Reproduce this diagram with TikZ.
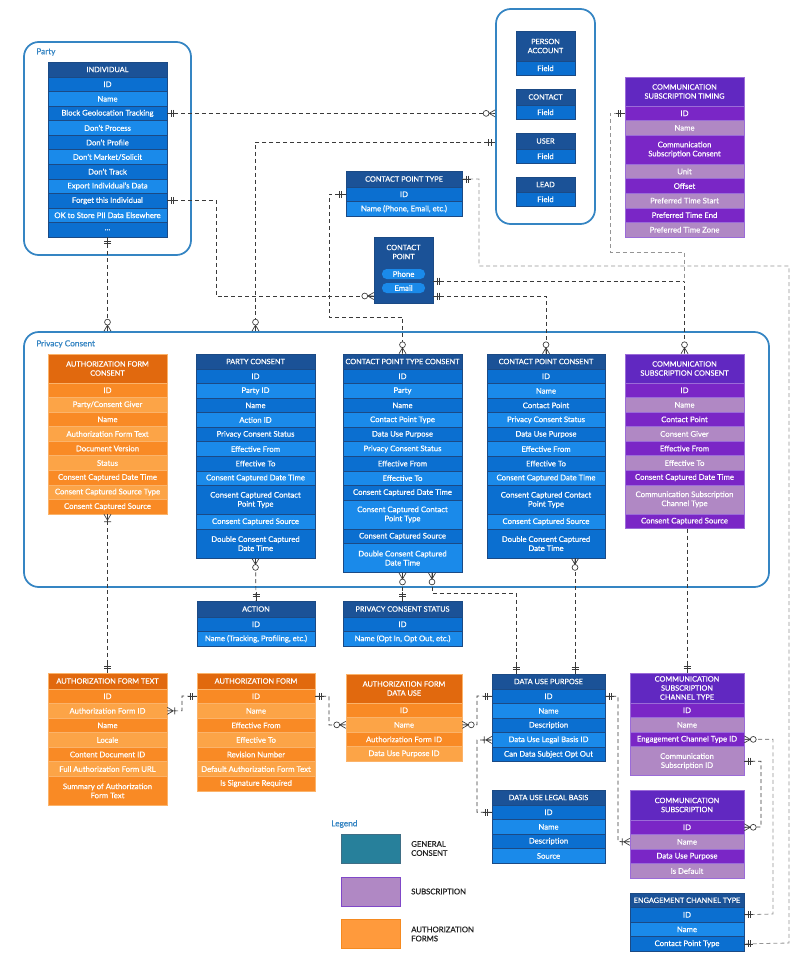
\documentclass[tikz,border=0pt]{standalone}
\usepackage{fontspec}
\setmainfont{Lato}[FakeBold=0.6]
\definecolor{bluehd}{HTML}{1B5297}
\definecolor{blued}{HTML}{0B6FD0}
\definecolor{bluel}{HTML}{1A8AEA}
\definecolor{blueb}{HTML}{1B4A85}
\definecolor{purhd}{HTML}{6128C1}
\definecolor{purd}{HTML}{7A26C6}
\definecolor{purl}{HTML}{B088C4}
\definecolor{purb}{HTML}{9B6BD8}
\definecolor{orahd}{HTML}{E1690E}
\definecolor{orad}{HTML}{F98A25}
\definecolor{oral}{HTML}{FCA447}
\definecolor{orab}{HTML}{FBB36A}
\definecolor{frame}{HTML}{3585C3}
\definecolor{ln}{HTML}{3A3A3A}
\definecolor{lnl}{HTML}{959595}
\definecolor{legteal}{HTML}{27809B}
\definecolor{legtealb}{HTML}{3F6E85}
\definecolor{legpur}{HTML}{B088C4}
\definecolor{legpurb}{HTML}{8048C8}
\definecolor{legora}{HTML}{FF9A3C}
\definecolor{legorab}{HTML}{F58A20}
\definecolor{legtxt}{HTML}{222222}
\newcommand\erfont{\fontsize{5.8}{6.8}\selectfont}
\newcommand\hdfont{\fontsize{5.5}{6.8}\selectfont}
\newcommand\lbfont{\fontsize{6.2}{7.2}\selectfont}
\newcommand\erhead[7]{%
  \node[draw=#2b, fill=#2hd, text=white, font=\hdfont, align=center, inner sep=0pt,
        minimum width={#5*0.75pt}, minimum height={#6*0.75pt}] (#1) at ({#3+#5/2},{#4+#6/2}) {#7};
  \pgfmathsetmacro\ertop{#4+#6}\xdef\ertop{\ertop}}
\newcommand\errows[5]{%
  \foreach \rtxt/\rh [count=\ri] in {#5}{%
    \pgfmathsetmacro\hh{14.55*\rh}%
    \ifodd\ri\relax \edef\fc{#2d}\else\edef\fc{#2l}\fi
    \node[draw=#2b, fill=\fc, text=white, font=\erfont, align=center, inner sep=0pt,
          minimum width={#4*0.75pt}, minimum height={\hh*0.75pt}] (#1-\ri) at ({#3+#4/2},{\ertop+\hh/2}) {\rtxt};
    \pgfmathsetmacro\nt{\ertop+\hh}\xdef\ertop{\nt}%
  }}
\tikzset{
  cont/.style={draw=frame, line width=1.3pt, rounded corners=11pt, inner sep=0pt},
  lbl/.style={text=frame, font=\lbfont, anchor=west, inner sep=0pt},
  pill/.style={fill=bluel, rounded corners=3.5pt, minimum width={43*0.75pt}, minimum height={10*0.75pt}, inner sep=0pt, text=white, font=\erfont},
  conn/.style={draw=ln, line width=0.5pt, dash pattern=on 3pt off 2.2pt},
  connl/.style={draw=lnl, line width=0.6pt, dash pattern=on 3pt off 2.2pt},
  mk/.style={draw=ln, line width=0.5pt, solid},
  pics/erone/.style={code={\draw[mk] (0,0)--(9,0) (4,-3.5)--(4,3.5) (6.5,-3.5)--(6.5,3.5);}},
  pics/erzm/.style={code={\draw[mk] (0,-3.5)--(6,0)--(0,3.5) (0,0)--(7,0); \draw[mk,fill=white] (9,0) circle[radius=2.2pt];}},
  pics/erom/.style={code={\draw[mk] (0,-3.5)--(6,0)--(0,3.5) (0,0)--(9,0) (7.5,-3.5)--(7.5,3.5);}},
  legbox/.style={minimum width={59*0.75pt}, minimum height={29*0.75pt}, line width=0.6pt},
  legtext/.style={text=legtxt, font=\erfont, anchor=west, align=left, inner sep=0pt},
}
\begin{document}
\begin{tikzpicture}[x=0.75pt,y=-0.75pt]
\useasboundingbox[fill=white] (0,0) rectangle (800,964);
% containers
\node[cont, minimum width={167*0.75pt}, minimum height={213*0.75pt}] (party) at (107.5,148.5) {};
\node[lbl] (party-l) at (36,52) {Party};
\node[cont, minimum width={99*0.75pt}, minimum height={215*0.75pt}] (crm) at (545.5,116.5) {};
\node[cont, minimum width={745*0.75pt}, minimum height={255*0.75pt}] (prv) at (396.5,459.5) {};
\node[lbl] (prv-l) at (36,344) {Privacy Consent};
% tables
\erhead{ind}{blue}{48}{62}{119}{15}{INDIVIDUAL}
\errows{ind}{blue}{48}{119}{ID/1, Name/1, Block Geolocation Tracking/1, Don’t Process/1, Don’t Profile/1, {Don’t Market/Solicit}/1, Don’t Track/1, Export Individual’s Data/1, Forget this Individual/1, OK to Store PII Data Elsewhere/1, {\ldots}/1}
\erhead{pa}{blue}{516}{31}{59}{30}{PERSON\\ACCOUNT}
\errows{pa}{blue}{516}{59}{Field/1}
\erhead{ct}{blue}{516}{89}{59}{16}{CONTACT}
\errows{ct}{blue}{516}{59}{Field/1}
\erhead{us}{blue}{516}{133}{59}{16}{USER}
\errows{us}{blue}{516}{59}{Field/1}
\erhead{ld}{blue}{516}{177}{59}{15}{LEAD}
\errows{ld}{blue}{516}{59}{Field/1}
\erhead{cpt}{blue}{346}{171}{116}{16}{CONTACT POINT TYPE}
\errows{cpt}{blue}{346}{116}{ID/1, {Name (Phone, Email, etc.)}/1}
\erhead{cst}{pur}{625}{77}{119}{29}{COMMUNICATION\\SUBSCRIPTION TIMING}
\errows{cst}{pur}{625}{119}{ID/1, Name/1, {Communication\\Subscription Consent}/2, Unit/1, Offset/1, Preferred Time Start/1, Preferred Time End/1, Preferred Time Zone/1}
% contact point
\node[draw=blueb, fill=bluehd, minimum width={59*0.75pt}, minimum height={66*0.75pt}, inner sep=0pt] (cp) at (403.5,270) {};
\node[text=white, font=\hdfont, align=center, inner sep=0pt] (cp-t) at (403.5,252) {CONTACT\\POINT};
\node[pill] (cp-phone) at (403.5,274) {Phone};
\node[pill] (cp-email) at (403.5,288) {Email};
% privacy consent tables
\erhead{afc}{ora}{48}{354}{119}{29}{AUTHORIZATION FORM\\CONSENT}
\errows{afc}{ora}{48}{119}{ID/1, {Party/Consent Giver}/1, Name/1, Authorization Form Text/1, Document Version/1, Status/1, Consent Captured Date Time/1, Consent Captured Source Type/1, Consent Captured Source/1}
\erhead{pc}{blue}{196}{354}{119}{15}{PARTY CONSENT}
\errows{pc}{blue}{196}{119}{ID/1, Party ID/1, Name/1, Action ID/1, Privacy Consent Status/1, Effective From/1, Effective To/1, Consent Captured Date Time/1, {Consent Captured Contact\\Point Type}/2, Consent Captured Source/1, {Double Consent Captured\\Date Time}/2}
\erhead{cptc}{blue}{343}{354}{119}{15}{CONTACT POINT TYPE CONSENT}
\errows{cptc}{blue}{343}{119}{ID/1, Party/1, Name/1, Contact Point Type/1, Data Use Purpose/1, Privacy Consent Status/1, Effective From/1, Effective To/1, Consent Captured Date Time/1, {Consent Captured Contact\\Point Type}/2, Consent Captured Source/1, {Double Consent Captured\\Date Time}/2}
\erhead{cpc}{blue}{487}{354}{118}{15}{CONTACT POINT CONSENT}
\errows{cpc}{blue}{487}{118}{ID/1, Name/1, Contact Point/1, Privacy Consent Status/1, Data Use Purpose/1, Effective From/1, Effective To/1, Consent Captured Date Time/1, {Consent Captured Contact\\Point Type}/2, Consent Captured Source/1, {Double Consent Captured\\Date Time}/2}
\erhead{csc}{pur}{625}{354}{119}{29}{COMMUNICATION\\SUBSCRIPTION CONSENT}
\errows{csc}{pur}{625}{119}{ID/1, Name/1, Contact Point/1, Consent Giver/1, Effective From/1, Effective To/1, Consent Captured Date Time/1, {Communication Subscription\\Channel Type}/2, Consent Captured Source/1}
% lower tables
\erhead{act}{blue}{197}{601}{118}{16}{ACTION}
\errows{act}{blue}{197}{118}{ID/1, {Name (Tracking, Profiling, etc.)}/1}
\erhead{pcs}{blue}{343}{601}{119}{16}{PRIVACY CONSENT STATUS}
\errows{pcs}{blue}{343}{119}{ID/1, {Name (Opt In, Opt Out, etc.)}/1}
\erhead{aft}{ora}{48}{673}{119}{16}{AUTHORIZATION FORM TEXT}
\errows{aft}{ora}{48}{119}{ID/1, Authorization Form ID/1, Name/1, Locale/1, Content Document ID/1, Full Authorization Form URL/1, {Summary of Authorization\\Form Text}/2}
\erhead{af}{ora}{197}{673}{118}{16}{AUTHORIZATION FORM}
\errows{af}{ora}{197}{118}{ID/1, Name/1, Effective From/1, Effective To/1, Revision Number/1, Default Authorization Form Text/1, Is Signature Required/1}
\erhead{afdu}{ora}{346}{674}{116}{29}{AUTHORIZATION FORM\\DATA USE}
\errows{afdu}{ora}{346}{116}{ID/1, Name/1, Authorization Form ID/1, Data Use Purpose ID/1}
\erhead{dup}{blue}{492}{674}{113}{15}{DATA USE PURPOSE}
\errows{dup}{blue}{492}{113}{ID/1, Name/1, Description/1, Data Use Legal Basis ID/1, Can Data Subject Opt Out/1}
\erhead{dulb}{blue}{492}{790}{113}{15}{DATA USE LEGAL BASIS}
\errows{dulb}{blue}{492}{113}{ID/1, Name/1, Description/1, Source/1}
\erhead{csct}{pur}{630}{673}{114}{30}{COMMUNICATION\\SUBSCRIPTION\\CHANNEL TYPE}
\errows{csct}{pur}{630}{114}{ID/1, Name/1, Engagement Channel Type ID/1, {Communication\\Subscription ID}/2}
\erhead{cs}{pur}{630}{790}{114}{30}{COMMUNICATION\\SUBSCRIPTION}
\errows{cs}{pur}{630}{114}{ID/1, Name/1, Data Use Purpose/1, Is Default/1}
\erhead{ect}{blue}{630}{893}{114}{14.5}{ENGAGEMENT CHANNEL TYPE}
\errows{ect}{blue}{630}{114}{ID/1, Name/1, Contact Point Type/1}
% connectors
\draw[conn] (ind-3.east) -- (ind-3.east -| crm.west);
\draw[conn] (crm.west |- 0,142) -| (pc.north |- prv.north);
\draw[conn] (ind-11.south) -- (ind-11.south |- prv.north);
\draw[conn] (ind-9.east) -| (216,296) -- (cp.west |- 0,296);
\draw[conn] (cpt-1.west) -| (329,317) -| (cptc.north);
\draw[connl] (cpt.east) -| (479,266) -| (789,943) -- (ect-3.east);
\draw[conn] (cp.east |- 0,281) -| (csc.north);
\draw[conn] (cp.east |- 0,296) -| (cpc.north);
\draw[connl] (cst-1.west) -| (610,252) -| (684.5,281);
\draw[conn] (pc-11.south) -- (act.north);
\draw[conn] (cptc-12.south) -- (pcs.north);
\draw[conn] (cptc-12.south -| 432,0) |- (516,593) -- (dup.north -| 516,0);
\draw[conn] (cpc-11.south -| 575,0) -- (dup.north -| 575,0);
\draw[conn] (csct.north |- csc-9.south) -- (csct.north);
\draw[conn] (afc-9.south) -- (aft.north);
\draw[conn] (aft-2.east) -| (182,696) -- (af-1.west);
\draw[conn] (af-1.east) -| (329,725) -- (afdu-2.west);
\draw[conn] (afdu-2.east) -| (477,696) -- (dup-1.west);
\draw[conn] (dulb-1.west) -| (477,740) -- (dup-4.west);
\draw[conn] (dup-1.east) -| (618,841.5) -- (cs-2.west);
\draw[connl] (csct-3.east) -| (773,914) -- (ect-1.east);
\draw[conn] (csct-4.east) -| (761,827) -- (cs-1.east);
% markers
\pic at (ind-3.east) {erone};
\pic[rotate=180] at (ind-3.east -| crm.west) {erzm};
\pic[rotate=180] at (crm.west |- 0,142) {erone};
\pic[rotate=90] at (pc.north |- prv.north) {erzm};
\pic[rotate=-90] at (ind-11.south) {erone};
\pic[rotate=90] at (ind-11.south |- prv.north) {erzm};
\pic at (ind-9.east) {erone};
\pic[rotate=180] at (cp.west |- 0,296) {erzm};
\pic[rotate=180] at (cpt-1.west) {erone};
\pic[rotate=90] at (cptc.north) {erzm};
\pic at (cpt.east) {erone};
\pic at (ect-3.east) {erone};
\pic at (cp.east |- 0,281) {erone};
\pic[rotate=90] at (csc.north) {erzm};
\pic at (cp.east |- 0,296) {erone};
\pic[rotate=90] at (cpc.north) {erzm};
\pic[rotate=180] at (cst-1.west) {erone};
\pic[rotate=-90] at (pc-11.south) {erzm};
\pic[rotate=90] at (act.north) {erone};
\pic[rotate=-90] at (cptc-12.south) {erzm};
\pic[rotate=90] at (pcs.north) {erone};
\pic[rotate=-90] at (cptc-12.south -| 432,0) {erzm};
\pic[rotate=90] at (dup.north -| 516,0) {erone};
\pic[rotate=-90] at (cpc-11.south -| 575,0) {erzm};
\pic[rotate=90] at (dup.north -| 575,0) {erone};
\pic[rotate=90] at (csct.north) {erone};
\pic[rotate=-90] at (afc-9.south) {erom};
\pic[rotate=90] at (aft.north) {erone};
\pic at (aft-2.east) {erom};
\pic[rotate=180] at (af-1.west) {erone};
\pic at (af-1.east) {erone};
\pic[rotate=180] at (afdu-2.west) {erzm};
\pic at (afdu-2.east) {erzm};
\pic[rotate=180] at (dup-1.west) {erone};
\pic[rotate=180] at (dulb-1.west) {erone};
\pic[rotate=180] at (dup-4.west) {erom};
\pic at (dup-1.east) {erone};
\pic[rotate=180] at (cs-2.west) {erom};
\pic at (csct-3.east) {erzm};
\pic at (ect-1.east) {erone};
\pic at (csct-4.east) {erone};
\pic at (cs-1.east) {erzm};
% legend
\node[lbl] (leg) at (331,824) {Legend};
\node[legbox, draw=legtealb, fill=legteal] (lg1) at (370.5,848.5) {};
\node[legtext] (lg1t) at (411,848.5) {GENERAL\\CONSENT};
\node[legbox, draw=legpurb, fill=legpur] (lg2) at (370.5,891.5) {};
\node[legtext] (lg2t) at (411,891.5) {SUBSCRIPTION};
\node[legbox, draw=legorab, fill=legora] (lg3) at (370.5,934) {};
\node[legtext] (lg3t) at (411,934) {AUTHORIZATION\\FORMS};
\end{tikzpicture}
\end{document}
